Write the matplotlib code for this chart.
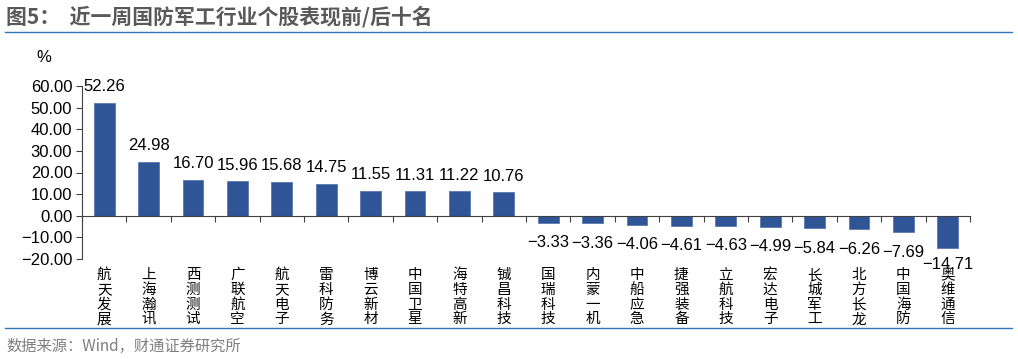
import numpy as np
import matplotlib.pyplot as plt

plt.rcParams['font.family'] = ['Liberation Sans', 'Noto Sans CJK SC', 'DejaVu Sans']

# data
names = ['航天发展', '上海瀚讯', '西测测试', '广联航空', '航天电子', '雷科防务', '博云新材',
         '中国卫星', '海特高新', '铖昌科技', '国瑞科技', '内蒙一机', '中船应急', '捷强装备',
         '立航科技', '宏达电子', '长城军工', '北方长龙', '中国海防', '奥维通信']
values = [52.26, 24.98, 16.70, 15.96, 15.68, 14.75, 11.55, 11.31, 11.22, 10.76,
          -3.33, -3.36, -4.06, -4.61, -4.63, -4.99, -5.84, -6.26, -7.69, -14.71]
yticks = [-20, -10, 0, 10, 20, 30, 40, 50, 60]

cjk = ['Noto Sans CJK SC', 'DejaVu Sans']

fig = plt.figure(figsize=(10.18, 3.59), dpi=100)
ax = fig.add_axes([82/1018, 1-259/359, (970-82)/1018, (259-86)/359])

x = np.arange(len(names))
ax.bar(x, values, width=0.47, color='#2F5597', edgecolor='#5A78B0', linewidth=0.6)

for xi, v in zip(x, values):
    lab = f'{v:.2f}'.replace('-', '\u2212')
    off = 16 if v >= 0 else -20
    if v < -10:
        off = -17
    ax.annotate(lab, (xi, v), xytext=(0, off), textcoords='offset pixels',
                ha='center', va='center', fontsize=12, color='#000000')

ax.set_xlim(-0.47, len(names) - 0.5)
ax.set_ylim(-20, 60)
ax.set_yticks(yticks)
ax.set_yticklabels([f'{t:.2f}'.replace('-', '\u2212') for t in yticks], fontsize=12)
ax.tick_params(axis='y', length=4, width=0.8, color='#404040', pad=3)

for s in ['top', 'right']:
    ax.spines[s].set_visible(False)
ax.spines['left'].set_color('#404040')
ax.spines['bottom'].set_position(('data', 0))
ax.spines['bottom'].set_color('#404040')
ax.set_xticks(np.arange(len(names) + 1) - 0.5)
ax.set_xticklabels([])
ax.tick_params(axis='x', length=4, direction='out', color='#404040')

# vertical stacked category labels, one character at a time
for xi, n in zip(x, names):
    for k, ch in enumerate(n):
        ax.annotate(ch, (xi, 0), xycoords=('data', 'axes fraction'),
                    xytext=(0, -16 - 14.8 * k), textcoords='offset pixels',
                    ha='center', va='center', fontsize=10.5, family=cjk,
                    annotation_clip=False)

fig.text(44/1018, 1-57/359, '%', ha='center', va='center', fontsize=12)

# title, lines, source
fig.text(6/1018, 1-17/359, '图5：  近一周国防军工行业个股表现前/后十名', ha='left', va='center',
         fontsize=15, color='#595959', fontweight='bold', family=cjk)
fig.add_artist(plt.Line2D([5/1018, 1012/1018], [1-32/359, 1-32/359], color='#2E75B6', lw=1))
fig.add_artist(plt.Line2D([5/1018, 1012/1018], [1-328/359, 1-328/359], color='#2E75B6', lw=1))
fig.text(6/1018, 1-346/359, '数据来源：Wind，财通证券研究所', ha='left', va='center',
         fontsize=11, color='#7F7F7F', family=cjk)

fig.savefig('out.png', dpi=100)
